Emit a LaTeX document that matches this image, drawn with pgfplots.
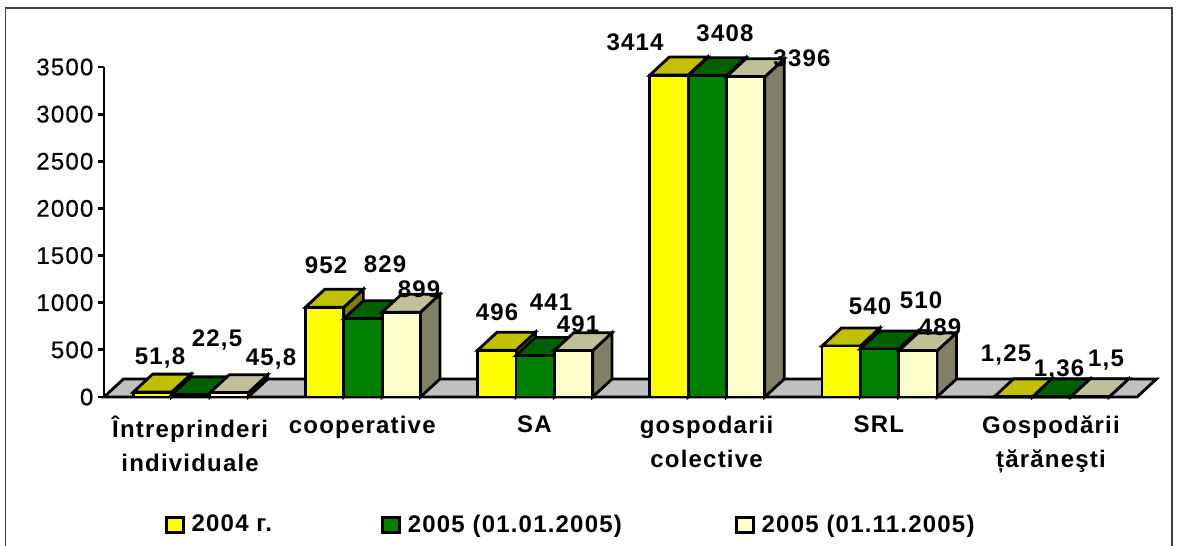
\documentclass[border=0pt]{standalone}
\usepackage{fontspec}
\setmainfont{Liberation Sans}[LetterSpace=5]
\newfontfamily\tickfont{Liberation Sans}[LetterSpace=5,FakeBold=0.5]
\usepackage{pgfplots}
\pgfplotsset{compat=1.18}

\definecolor{yelF}{HTML}{FFFF00}
\definecolor{yelT}{HTML}{C0C000}
\definecolor{yelS}{HTML}{808000}
\definecolor{grnF}{HTML}{008000}
\definecolor{grnT}{HTML}{006000}
\definecolor{grnS}{HTML}{004000}
\definecolor{crmF}{HTML}{FFFFCC}
\definecolor{crmT}{HTML}{C0C099}
\definecolor{crmS}{HTML}{808066}
\definecolor{floorc}{HTML}{C0C0C0}

\newcommand{\bw}{0.2227}
\newcommand{\dx}{0.113}
\newcommand{\dy}{191}
\pgfplotsset{face/.style={forget plot,fill=#1,draw=black,line width=1.4pt,line join=miter}}

% x left, value, front, top, side
\newcommand{\onebar}[5]{%
  \addplot[face=#5] coordinates {(#1+\bw,0) (#1+\bw+\dx,\dy) (#1+\bw+\dx,#2+\dy) (#1+\bw,#2)} --cycle;
  \addplot[face=#4] coordinates {(#1,#2) (#1+\dx,#2+\dy) (#1+\bw+\dx,#2+\dy) (#1+\bw,#2)} --cycle;
  \addplot[face=#3] coordinates {(#1,0) (#1,#2) (#1+\bw,#2) (#1+\bw,0)} --cycle;
}
% category index, three values
\newcommand{\threebars}[4]{%
  \onebar{#1+0.17}{#2}{yelF}{yelT}{yelS}
  \onebar{#1+0.3927}{#3}{grnF}{grnT}{grnS}
  \onebar{#1+0.6154}{#4}{crmF}{crmT}{crmS}
}
% value label, centre given in picture pixels
\newcommand{\vlab}[3]{\node[font=\lblfont] at (axis cs:{(#1-104)/172.17},{(397-#2)/0.0943}) {#3};}
\newcommand{\lblfont}{\fontsize{12pt}{17pt}\selectfont\bfseries}

\begin{document}
\begin{tikzpicture}
\path[use as bounding box] (0,0) rectangle (593pt,272.5pt);
\draw[line width=0.7pt,black!75] (2.8pt,-2pt) -- (2.8pt,268.5pt) -- (586pt,268.5pt) -- (586pt,-2pt);
\begin{axis}[
  at={(52pt,74pt)},
  anchor=origin,
  scale only axis,
  width=516.5pt,
  height=165pt,
  xmin=0, xmax=6,
  ymin=0, ymax=3500,
  clip=false,
  axis x line=bottom,
  axis y line=left,
  axis line style={-,line width=1.4pt},
  xtick={0.5,1.5,2.5,3.5,4.5,5.5},
  xticklabels={{Întreprinderi\\individuale},cooperative,SA,{gospodarii\\colective},SRL,{Gospodării\\țărăneşti}},
  x tick style={draw=none},
  minor xtick={0,1,2,3,4,5,6},
  minor x tick style={line width=1.4pt,black},
  minor tick length=3.5pt,
  xticklabel style={align=center,font=\lblfont,yshift=-3pt},
  ytick={0,500,1000,1500,2000,2500,3000,3500},
  y tick style={line width=1.4pt,black},
  major tick length=3pt,
  tick align=outside,
  yticklabel style={font=\fontsize{12pt}{12pt}\selectfont\tickfont,xshift=1.2pt},
  /pgf/number format/assume math mode=true,
  /pgf/number format/1000 sep={},
  scaled y ticks=false,
  legend columns=3,
  legend cell align=left,
  legend image code/.code={\draw[#1,line width=1.4pt] (0pt,-3.8pt) rectangle (8.5pt,3.8pt);},
  legend style={
    at={(axis description cs:0.0585,-0.388)},anchor=west,draw=none,fill=none,
    inner sep=0pt,font=\lblfont,
    /tikz/column 1/.style={column sep=1.5pt},
    /tikz/column 2/.style={column sep=52.5pt},
    /tikz/column 3/.style={column sep=1.5pt},
    /tikz/column 4/.style={column sep=54.5pt},
    /tikz/column 5/.style={column sep=1.5pt},
  },
]
\addlegendimage{fill=yelF,draw=black}
\addlegendentry{2004 г.}
\addlegendimage{fill=grnF,draw=black}
\addlegendentry{2005 (01.01.2005)}
\addlegendimage{fill=crmF,draw=black}
\addlegendentry{2005 (01.11.2005)}

\addplot[face=floorc] coordinates {(0,0) (6,0) (6+\dx,\dy) (\dx,\dy)} --cycle;

\threebars{0}{51.8}{22.5}{45.8}
\threebars{1}{952}{829}{899}
\threebars{2}{496}{441}{491}
\threebars{3}{3414}{3408}{3396}
\threebars{4}{540}{510}{489}
\threebars{5}{1.25}{1.36}{1.5}

\vlab{160}{358}{51,8}
\vlab{217}{340}{22,5}
\vlab{271}{359}{45,8}
\vlab{326}{265}{952}
\vlab{385}{264}{829}
\vlab{419}{289}{899}
\vlab{497}{312}{496}
\vlab{551}{302}{441}
\vlab{578}{324}{491}
\vlab{635}{42}{3414}
\vlab{725}{33}{3408}
\vlab{802}{58}{3396}
\vlab{870}{306}{540}
\vlab{921}{300}{510}
\vlab{940}{327}{489}
\vlab{1006}{355}{1,25}
\vlab{1059}{370}{1,36}
\vlab{1106}{360}{1,5}
\end{axis}
\end{tikzpicture}
\end{document}
